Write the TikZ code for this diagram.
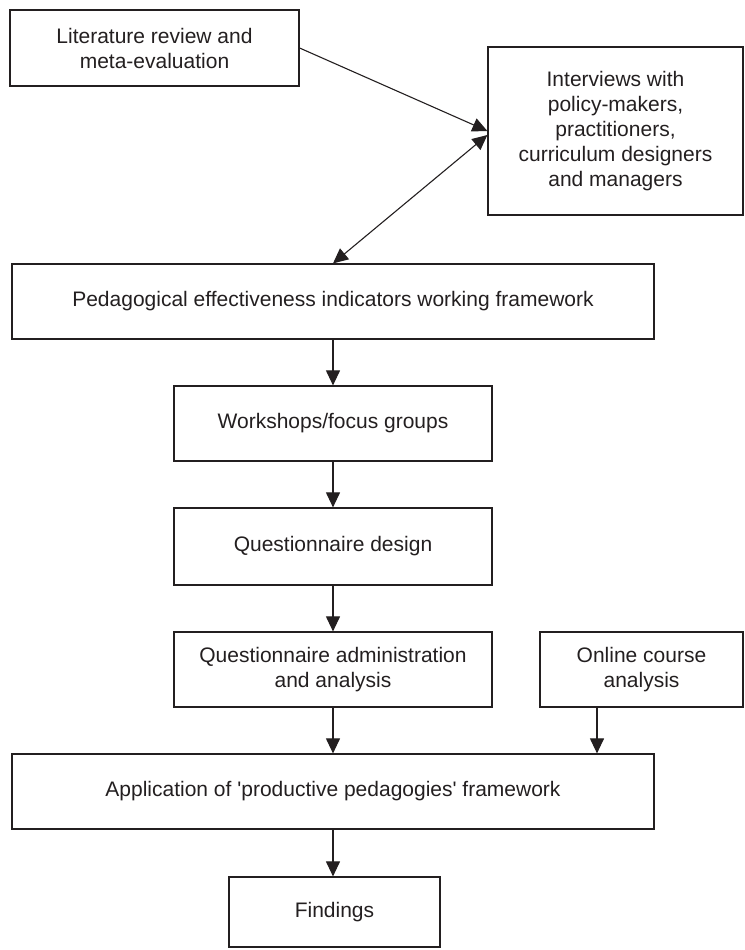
\documentclass[tikz,border=0pt]{standalone}
\usepackage{fontspec}
\setmainfont{Liberation Sans}
\usetikzlibrary{arrows.meta}
\definecolor{ink}{RGB}{35,31,32}
\begin{document}
\begin{tikzpicture}[x=1pt,y=-1pt,
  box/.style={draw=ink, line width=1.2pt, rectangle, align=center, inner sep=0pt,
    text=ink, font=\fontsize{21}{25}\selectfont},
  conn/.style={draw=ink, line width=1.1pt, -{Triangle[length=15pt,width=14pt]}},
  dconn/.style={draw=ink, line width=1.1pt, {Triangle[length=15pt,width=14pt]}-{Triangle[length=15pt,width=14pt]}}]
\useasboundingbox (0,0) rectangle (744,950);
\node[box, minimum width=289pt, minimum height=76pt] (lit) at (154.5,48) {Literature review and\\meta-evaluation};
\node[box, minimum width=255pt, minimum height=168pt] (int) at (615.5,131) {Interviews with\\policy-makers,\\practitioners,\\curriculum designers\\and managers};
\node[box, minimum width=642pt, minimum height=75pt] (ped) at (333,301.5) {Pedagogical effectiveness indicators working framework};
\node[box, minimum width=318pt, minimum height=75pt] (ws) at (333,423.5) {Workshops/focus groups};
\node[box, minimum width=318pt, minimum height=77pt] (qd) at (333,546.5) {Questionnaire design};
\node[box, minimum width=318pt, minimum height=75pt] (qa) at (333,669.5) {Questionnaire administration\\and analysis};
\node[box, minimum width=203pt, minimum height=75pt] (oc) at (641.5,669.5) {Online course\\analysis};
\node[box, minimum width=642pt, minimum height=75pt] (app) at (333,791.5) {Application of \textquotesingle productive pedagogies\textquotesingle\ framework};
\node[box, minimum width=211pt, minimum height=70pt] (fd) at (334.5,912) {Findings};
\draw[conn] (lit.east) -- (int.west);
\draw[dconn] (ped.north) -- ([yshift=-4pt]int.west);
\draw[conn] (ped.south) -- (ws.north);
\draw[conn] (ws.south) -- (qd.north);
\draw[conn] (qd.south) -- (qa.north);
\draw[conn] (qa.south) -- (app.north);
\draw[conn] ([xshift=-44.5pt]oc.south) -- ([xshift=-44.5pt]oc.south |- app.north);
\draw[conn] (app.south) -- (app.south |- fd.north);
\end{tikzpicture}
\end{document}
